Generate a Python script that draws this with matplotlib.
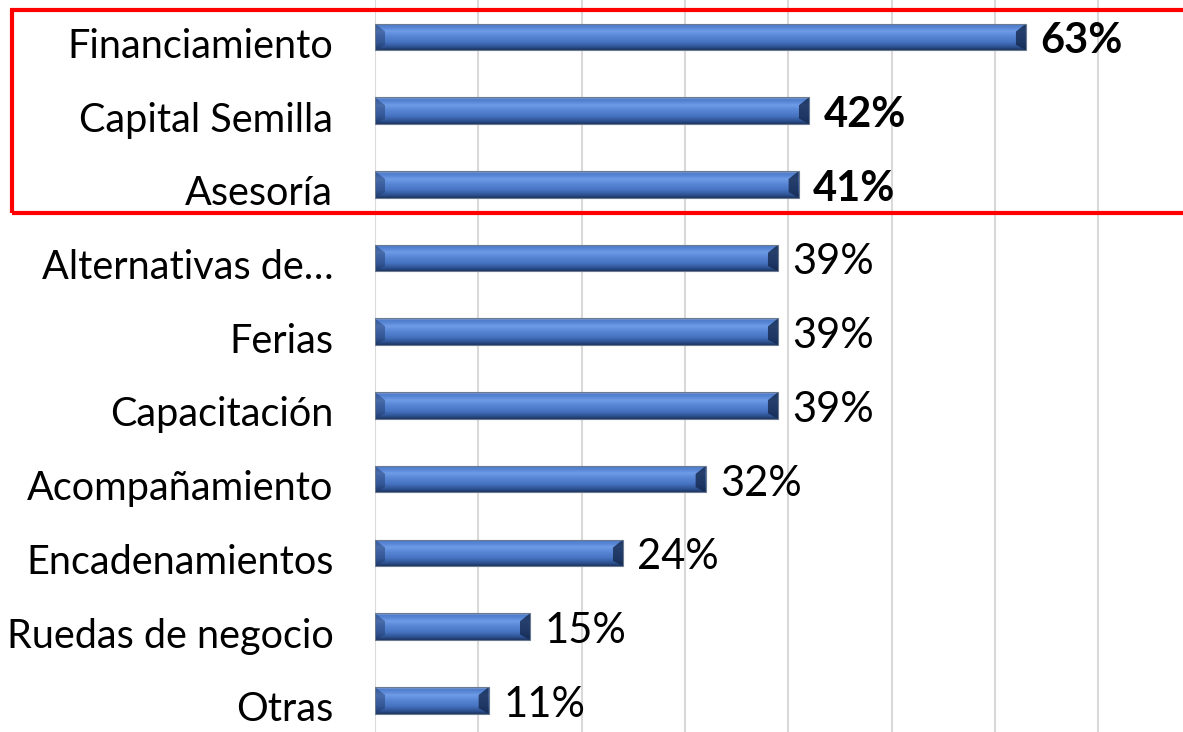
import numpy as np
import matplotlib.pyplot as plt
import matplotlib.transforms as mtransforms
from matplotlib.colors import LinearSegmentedColormap
from matplotlib.patches import Rectangle, Polygon

# --- Donnees ---
categorias = ['Financiamiento', 'Capital Semilla', 'Asesoría', 'Alternativas de…',
              'Ferias', 'Capacitación', 'Acompañamiento', 'Encadenamientos',
              'Ruedas de negocio', 'Otras']
valores = [63, 42, 41, 39, 39, 39, 32, 24, 15, 11]
destacados = [True, True, True, False, False, False, False, False, False, False]

plt.rcParams['font.family'] = ['Lato', 'DejaVu Sans']

fig = plt.figure(figsize=(11.83, 7.32), dpi=100)
ax = fig.add_axes([375 / 1183, 0, 1 - 375 / 1183, 1])

# degrade vertical pour l'effet biseau
cmap = LinearSegmentedColormap.from_list('bisel', [
    (0.0, '#9fb3d6'), (0.08, '#4c7bcc'), (0.3, '#6f9be6'),
    (0.45, '#5b89d8'), (0.7, '#4774c2'), (0.88, '#2f5596'), (1.0, '#1d3462')])
grad = np.linspace(0, 1, 64).reshape(-1, 1)

h = 0.36
px_x = 103.3 / 10  # pixels par unite
cap = 10 / px_x

for i, v in enumerate(valores):
    y0, y1 = i - h / 2, i + h / 2
    im = ax.imshow(grad, cmap=cmap, aspect='auto', extent=[0, v, y1, y0],
                   interpolation='bilinear', zorder=3)
    r = Rectangle((0, y0), v, h, transform=ax.transData)
    im.set_clip_path(r)
    # extremites biseautees
    ax.add_patch(Polygon([[0, y0], [cap, y0 + h * 0.3], [cap, y1 - h * 0.2], [0, y1]],
                         closed=True, color='#1d3462', alpha=0.45, lw=0, zorder=4))
    ax.add_patch(Polygon([[v, y0], [v - cap, y0 + h * 0.3], [v - cap, y1 - h * 0.2], [v, y1]],
                         closed=True, color='#14284d', alpha=0.8, lw=0, zorder=4))
    ax.add_patch(Rectangle((0, y0), v, h, fill=False, ec='#6c7a90', lw=0.8, zorder=5))
    ax.text(v + 1.4, i + 0.06, f'{v}%', va='center', ha='left', fontsize=30,
            fontweight='bold' if destacados[i] else 'normal', color='black', zorder=6)

ax.set_xlim(0, 78.2)
ax.set_ylim(9.43, -0.5)
ax.set_xticks(np.arange(0, 80, 10))
ax.xaxis.grid(True, color='#d9d9d9', lw=1.5, zorder=0)
ax.set_axisbelow(True)
ax.tick_params(axis='x', length=0, labelbottom=False)
ax.tick_params(axis='y', length=0, pad=30)
ax.set_yticks(range(len(categorias)))
ax.set_yticklabels(categorias, fontsize=28.5, va='center_baseline')
# on descend un peu les etiquettes
decalage = mtransforms.ScaledTranslation(0, -6 / 100, fig.dpi_scale_trans)
for lab in ax.get_yticklabels():
    lab.set_transform(lab.get_transform() + decalage)
for s in ax.spines.values():
    s.set_visible(False)

# cadre rouge autour des trois premiers
fig.patches.append(Rectangle((12 / 1183, 1 - 213 / 732), 1.2, (213 - 10) / 732,
                             transform=fig.transFigure, fill=False, ec='#ff0000',
                             lw=3, zorder=10))

fig.savefig('out.png', dpi=100)
